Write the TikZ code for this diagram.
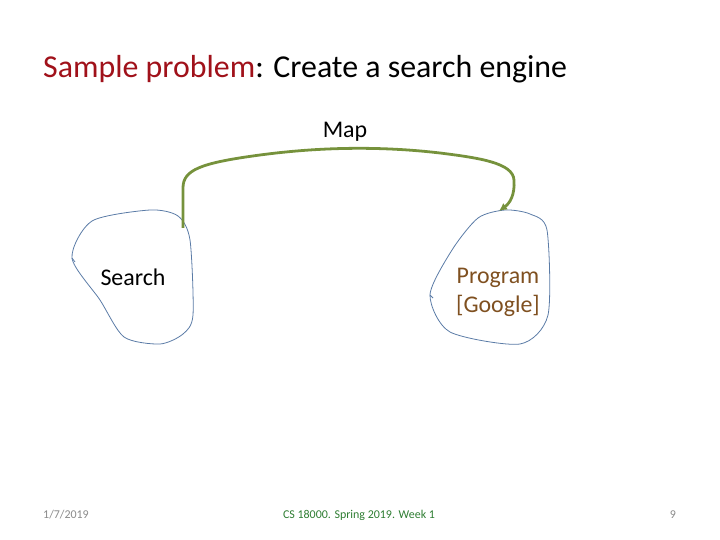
\documentclass[tikz,border=0pt]{standalone}
\usepackage{fontspec}
\setmainfont{Carlito}
\usetikzlibrary{arrows.meta}
\definecolor{titlered}{HTML}{A0111A}
\definecolor{olive}{HTML}{76923C}
\definecolor{blobblue}{HTML}{5A7BA6}
\definecolor{progbrown}{HTML}{7F5020}
\definecolor{footgrey}{HTML}{8A8A8A}
\definecolor{footgreen}{HTML}{2E7D32}
\tikzset{
  blob/.style={draw=blobblue, line width=0.8pt},
  lbl/.style={font=\fontsize{24}{28}\selectfont, inner sep=0pt},
  foot/.style={font=\fontsize{12}{14}\selectfont, inner sep=0pt},
  conn/.style={draw=olive, line width=2.8pt, -{Latex[length=8pt,width=8pt]}}
}
\begin{document}
\begin{tikzpicture}[x=1bp,y=-1bp]
\useasboundingbox (0,0) rectangle (720,540);
\node[anchor=base west, font=\fontsize{32}{36}\selectfont, inner sep=0pt] (title) at (43,78)
  {\textcolor{titlered}{Sample problem}: Create a search engine};
\node[lbl] (map) at (345,132) {Map};
% Search blob
\draw[blob] plot[smooth cycle, tension=0.45] coordinates {
  (72,258) (92,221) (150,210) (178,216) (190,240) (193,315)
  (183,334) (160,344) (124,337) (100,300)};
\draw[blob] (72,258) -- (75,262);
\node[lbl] (search) at (133,277) {Search};
% Program blob
\draw[blob] plot[smooth cycle, tension=0.45] coordinates {
  (430,295) (452,250) (478,218) (505,210) (530,214) (547,230)
  (548,315) (520,344) (450,332)};
\draw[blob] (430,295) -- (433,298);
\node[lbl, text=progbrown, align=center] (prog) at (498,292) {Program\\[1pt][Google]};
\coordinate (s) at (183,228);
\coordinate (p) at (499,211);
\draw[conn] (s) -- (183,188) .. controls (183,170) and (200,163) .. (260,155)
  .. controls (320,147) and (380,146) .. (440,153)
  .. controls (480,158) and (513,163) .. (514,180)
  .. controls (515,195) and (510,203) .. (p);
% footer
\node[foot, text=footgrey] (date) at (66,515) {1/7/2019};
\node[foot, text=footgreen] (course) at (359,515) {CS 18000. Spring 2019. Week 1};
\node[foot, text=footgrey] (page) at (673,515) {9};
\end{tikzpicture}
\end{document}
